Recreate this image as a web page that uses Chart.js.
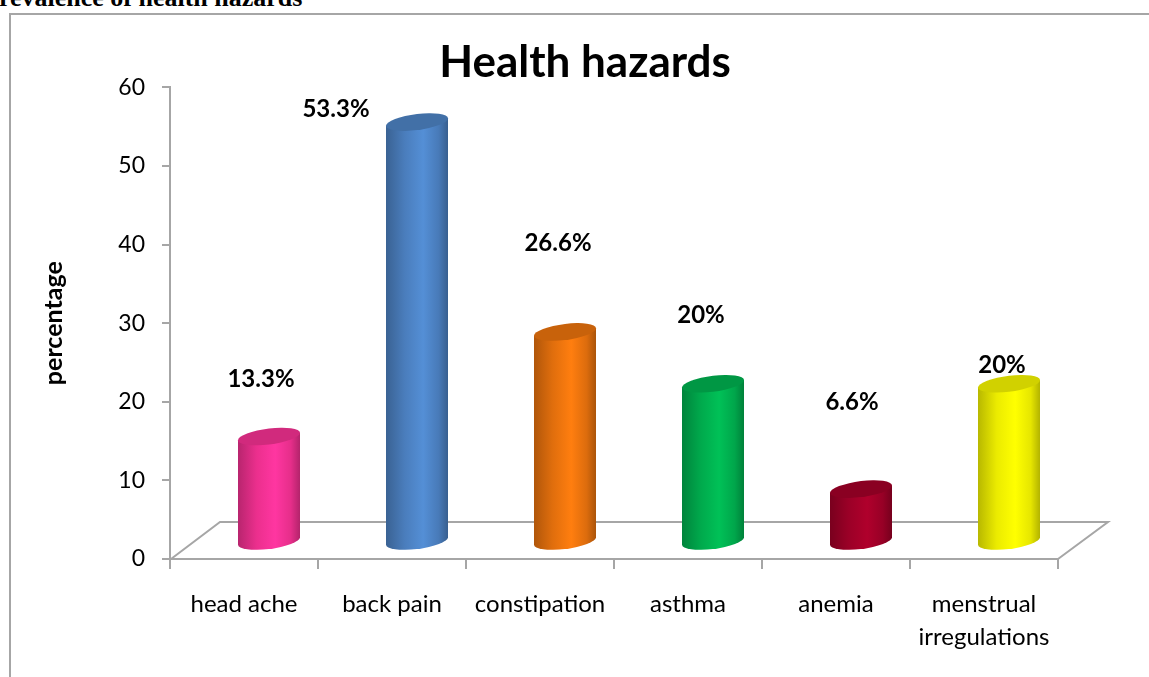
<!DOCTYPE html>
<html>
<head>
<meta charset="utf-8">
<script src="https://cdn.jsdelivr.net/npm/chart.js@4.4.1/dist/chart.umd.min.js"></script>
<style>
  html, body { margin: 0; padding: 0; background: #fff; overflow: hidden; }
  .caption {
    position: absolute; left: -17px; top: -17px; line-height: 24px;
    font: bold 26px 'Liberation Serif', serif; color: #000; white-space: nowrap;
  }
  .frame {
    position: absolute; left: 9px; top: 13px; width: 1200px; height: 700px;
    border: 2px solid #a6a6a6;
  }
  .wrap { position: absolute; left: 0; top: 0; width: 1149px; height: 677px; }
</style>
</head>
<body>
<div class="caption">Prevalence of health hazards</div>
<div class="frame"></div>
<div class="wrap"><canvas id="hazardChart"></canvas></div>
<script>
const categories = ['head ache', 'back pain', 'constipation', 'asthma', 'anemia', ['menstrual', 'irregulations']];
const percentages = [13.3, 53.3, 26.6, 20, 6.6, 20];
const valueLabels = ['13.3%', '53.3%', '26.6%', '20%', '6.6%', '20%'];
const yTicks = [0, 10, 20, 30, 40, 50, 60];

const barColors = ['#FF3399', '#5088CC', '#F4780E', '#00B853', '#A8002A', '#FFFF00'];

// label placement (px from cylinder top), as hand-placed in the original
const labelShift = [[-8, -57], [-81, -13], [-7, -89], [-12, -69], [-9, -87], [-7, -19]];

function shade(hex, f) {
  const n = parseInt(hex.slice(1), 16);
  const c = [(n >> 16) & 255, (n >> 8) & 255, n & 255].map(v => Math.max(0, Math.min(255, Math.round(v * f))));
  return 'rgb(' + c.join(',') + ')';
}

const cylinderPlugin = {
  id: 'cylinders',
  beforeDatasetsDraw(chart) {
    const ctx = chart.ctx;
    const area = chart.chartArea;
    const depthX = 50, depthY = -37;

    // floor of the 3d box
    ctx.save();
    ctx.strokeStyle = '#a6a6a6';
    ctx.lineWidth = 2;
    ctx.beginPath();
    ctx.moveTo(area.left + 1, area.bottom);
    ctx.lineTo(area.left + depthX, area.bottom + depthY);
    ctx.lineTo(area.right + depthX, area.bottom + depthY);
    ctx.lineTo(area.right, area.bottom);
    ctx.stroke();
    ctx.restore();

    const meta = chart.getDatasetMeta(0);
    const colors = chart.data.datasets[0].backgroundColor;
    const rx = 31, ry = 8, k = -0.12;

    meta.data.forEach((bar, i) => {
      const cx = bar.x + depthX / 2;
      const top = bar.y - 18;
      const base = bar.base - 17;
      const col = colors[i];

      ctx.save();
      ctx.translate(cx, 0);
      ctx.transform(1, k, 0, 1, 0, 0);

      const grad = ctx.createLinearGradient(-rx, 0, rx, 0);
      grad.addColorStop(0, shade(col, 0.72));
      grad.addColorStop(0.3, shade(col, 0.92));
      grad.addColorStop(0.6, shade(col, 1.05));
      grad.addColorStop(0.85, shade(col, 0.9));
      grad.addColorStop(1, shade(col, 0.7));

      ctx.beginPath();
      ctx.moveTo(-rx, top);
      ctx.lineTo(-rx, base);
      ctx.ellipse(0, base, rx, ry, 0, Math.PI, 0, true);
      ctx.lineTo(rx, top);
      ctx.closePath();
      ctx.fillStyle = grad;
      ctx.fill();

      ctx.beginPath();
      ctx.ellipse(0, top, rx, ry, 0, 0, Math.PI * 2);
      ctx.fillStyle = shade(col, 0.82);
      ctx.fill();
      ctx.restore();

      ctx.save();
      ctx.font = 'bold 24px Lato';
      ctx.fillStyle = '#000';
      ctx.textAlign = 'center';
      ctx.textBaseline = 'middle';
      ctx.fillText(valueLabels[i], cx + labelShift[i][0], top + labelShift[i][1]);
      ctx.restore();
    });
    return false;
  }
};

const data = {
  labels: categories,
  datasets: [{
    label: 'percentage',
    data: percentages,
    backgroundColor: barColors,
    categoryPercentage: 0.8,
    barPercentage: 0.5
  }]
};

const config = {
  type: 'bar',
  data: data,
  options: {
    responsive: true,
    maintainAspectRatio: false,
    animation: false,
    // uneven side padding so the title sits where the original has it
    layout: { padding: { left: 112, right: 91, top: 0, bottom: 0 } },
    plugins: {
      legend: { display: false },
      tooltip: { enabled: false },
      title: {
        display: true,
        text: 'Health hazards',
        color: '#000',
        font: { family: 'Lato', size: 44, weight: 'bold', lineHeight: 1.1 },
        padding: { top: 39, bottom: 0 }
      }
    },
    scales: {
      x: {
        afterFit: (scale) => { scale.height = 118; },
        grid: {
          display: true,
          drawOnChartArea: false,
          offset: true,
          tickLength: 10,
          color: '#a6a6a6',
          lineWidth: 2
        },
        border: { display: true, color: '#a6a6a6', width: 2 },
        ticks: {
          color: '#000',
          padding: 19,
          maxRotation: 0,
          autoSkip: false,
          font: { family: 'Lato', size: 24, lineHeight: 1.375 }
        }
      },
      y: {
        min: yTicks[0],
        max: yTicks[yTicks.length - 1],
        afterFit: (scale) => { scale.width = 58; },
        afterBuildTicks: (scale) => { scale.ticks = yTicks.map(v => ({ value: v })); },
        grid: {
          display: true,
          drawOnChartArea: false,
          tickLength: 8,
          color: '#a6a6a6',
          lineWidth: 2
        },
        border: { display: true, color: '#a6a6a6', width: 2 },
        ticks: {
          color: '#000',
          padding: 17,
          font: { family: 'Lato', size: 23 }
        },
        title: {
          display: true,
          text: 'percentage',
          color: '#000',
          font: { family: 'Lato', size: 25, weight: 'bold', lineHeight: 1.2 },
          padding: { top: -73, bottom: 0 }
        }
      }
    }
  },
  plugins: [cylinderPlugin]
};

const ctx = document.getElementById('hazardChart').getContext('2d');
new Chart(ctx, config);
</script>
</body>
</html>
